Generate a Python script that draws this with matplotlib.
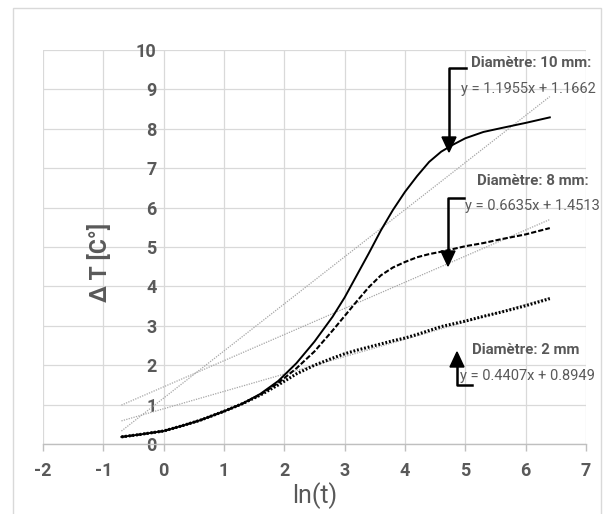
import matplotlib
matplotlib.use("Agg")
import matplotlib.pyplot as plt
import numpy as np
from matplotlib.patches import Rectangle, Polygon
from matplotlib.lines import Line2D

plt.rcParams["axes.unicode_minus"] = False

# ---- data ----
x_pts = [-0.7, -0.4, 0.0, 0.3, 0.6, 1.0, 1.3, 1.6, 1.9, 2.2, 2.5, 2.8, 3.0, 3.2, 3.4,
         3.6, 3.8, 4.0, 4.2, 4.4, 4.6, 4.8, 5.0, 5.3, 5.6, 6.0, 6.4]
y_10mm = [0.18, 0.24, 0.33, 0.46, 0.60, 0.83, 1.02, 1.27, 1.60, 2.05, 2.60, 3.23, 3.72, 4.28, 4.84,
          5.42, 5.94, 6.40, 6.80, 7.16, 7.42, 7.60, 7.76, 7.92, 8.02, 8.15, 8.29]
y_8mm = [0.18, 0.24, 0.33, 0.46, 0.60, 0.83, 1.02, 1.25, 1.55, 1.92, 2.35, 2.88, 3.25, 3.62, 3.98,
         4.28, 4.48, 4.62, 4.74, 4.82, 4.88, 4.95, 5.02, 5.10, 5.20, 5.32, 5.48]
y_2mm = [0.18, 0.24, 0.33, 0.46, 0.60, 0.83, 1.02, 1.24, 1.50, 1.78, 2.00, 2.18, 2.29, 2.38, 2.46,
         2.54, 2.62, 2.69, 2.78, 2.88, 2.98, 3.05, 3.12, 3.24, 3.35, 3.51, 3.69]

trend_slopes = [1.1955, 0.6635, 0.4407]
trend_intercepts = [1.1662, 1.4513, 0.8949]
trend_range = [-0.7, 6.4]

labels = ["Diamètre: 10 mm:", "Diamètre: 8 mm:", "Diamètre: 2 mm"]
equations = ["y = 1.1955x + 1.1662", "y = 0.6635x + 1.4513", "y = 0.4407x + 0.8949"]

x_ticks = list(range(-2, 8))
y_ticks = list(range(0, 11))

# ---- figure ----
W, H = 605, 514
fig = plt.figure(figsize=(W / 100, H / 100), dpi=100)
FONT = ["Roboto", "DejaVu Sans"]
GRAY = "#595959"

def fp(x, y):
    return (x / W, 1 - y / H)

# outer chart border
fig.patches.append(Rectangle(fp(13, 520), (601 - 13) / W, (520 - 8) / H,
                             transform=fig.transFigure, fill=False,
                             edgecolor="#d9d9d9", lw=1.0))

ax = fig.add_axes([43 / W, 1 - 444 / H, (586 - 43) / W, (444 - 50) / H])
ax.set_xlim(-2, 7)
ax.set_ylim(0, 10)
ax.set_xticks(x_ticks)
ax.set_yticks(y_ticks)
ax.grid(True, color="#d9d9d9", lw=0.9)
ax.set_axisbelow(True)
for s in ["top", "right"]:
    ax.spines[s].set_visible(False)
ax.spines["left"].set_position(("data", 0))
ax.spines["left"].set_visible(False)
ax.spines["bottom"].set_color("#bfbfbf")
ax.spines["bottom"].set_linewidth(1.0)
ax.tick_params(axis="x", colors="#bfbfbf", length=5, width=1, pad=8,
               labelcolor=GRAY, labelsize=13)
ax.tick_params(axis="y", length=0, pad=5, labelcolor=GRAY, labelsize=13)
for lab in ax.get_xticklabels() + ax.get_yticklabels():
    lab.set_family(FONT)
    lab.set_fontweight("bold")

# trend lines
xt = np.array(trend_range)
for m, b in zip(trend_slopes, trend_intercepts):
    ax.plot(xt, m * xt + b, color="#a6a6a6", lw=0.9, ls=(0, (1, 1)), zorder=2)

# data curves
ax.plot(x_pts, y_10mm, color="black", lw=1.4, zorder=3)
ax.plot(x_pts, y_8mm, color="black", lw=1.5, ls=(0, (2.5, 1)), zorder=3)
ax.plot(x_pts, y_2mm, color="black", lw=2.2, ls=(0, (0.6, 0.6)), zorder=3)

fig.text(*fp(315, 496), "ln(t)", ha="center", va="center", fontsize=18,
         color=GRAY, family=FONT)
fig.text(*fp(100, 262), "Δ T [C°]", ha="center", va="center", fontsize=16.5,
         color=GRAY, family=FONT, fontweight="bold", rotation=90)

# annotations
ann_label_pos = [(531, 63), (533, 181), (526, 350)]
ann_eq_pos = [(528, 89), (532, 206), (527, 376)]
for (lx, ly), (ex, ey), lab, eq in zip(ann_label_pos, ann_eq_pos, labels, equations):
    fig.text(*fp(lx, ly), lab, ha="center", va="center", fontsize=10.8,
             fontweight="bold", color=GRAY, family=FONT)
    fig.text(*fp(ex, ey), eq, ha="center", va="center", fontsize=10.5,
             color=GRAY, family=FONT)

def bracket(pts, tip, up):
    xs, ys = zip(*[fp(px, py) for px, py in pts])
    fig.add_artist(Line2D(xs, ys, transform=fig.transFigure, color="black", lw=1.8))
    tx, ty = tip
    hh = 15 if not up else -15
    tri = [fp(tx, ty), fp(tx - 7, ty - hh), fp(tx + 7, ty - hh)]
    fig.add_artist(Polygon(tri, closed=True, transform=fig.transFigure,
                           facecolor="black", edgecolor="black"))

bracket([(466, 68), (449, 68), (449, 140)], (449, 152), False)
bracket([(464, 198), (448, 198), (448, 255)], (448, 266), False)
bracket([(472, 385), (457, 385), (457, 362)], (457, 352), True)

fig.savefig("out.png", dpi=100)
